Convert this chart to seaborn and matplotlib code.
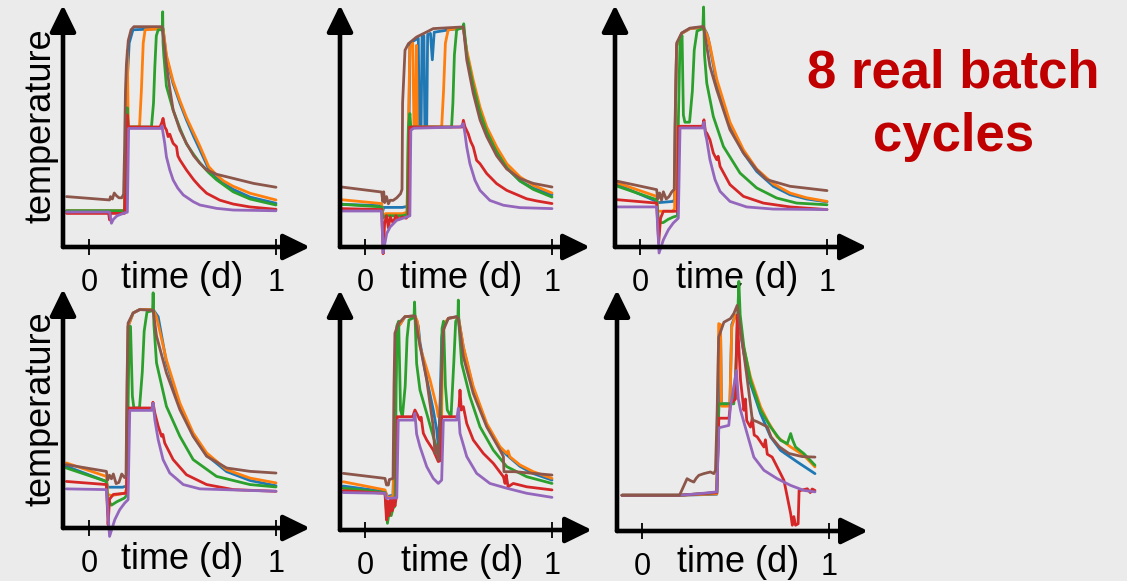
import matplotlib
matplotlib.use("Agg")
import matplotlib.pyplot as plt
import pandas as pd
import seaborn as sns

# ---------------------------------------------------------------------------
# Temperature traces of the batch cycles: (time in days, temperature units)
# ---------------------------------------------------------------------------
P1_BLUE = [(-0.12, 15.1), (0.18, 15.1), (0.195, 15.5), (0.20, 50), (0.205, 70), (0.215, 85), (0.235, 90.5),
           (0.39, 91.0), (0.396, 91), (0.414, 79), (0.45, 68), (0.486, 60), (0.521, 53), (0.56, 46),
           (0.593, 40.5), (0.64, 32.5), (0.682, 29), (0.72, 26.5), (0.771, 24), (0.861, 20.8), (1.0, 18.2)]
P1_ORANGE = [(-0.12, 15.1), (0.19, 15.1), (0.20, 50), (0.205, 82), (0.21, 50), (0.27, 50), (0.28, 65),
             (0.29, 85), (0.30, 90.5), (0.396, 91), (0.414, 80), (0.45, 69), (0.486, 61), (0.521, 54),
             (0.56, 47.5), (0.593, 42), (0.64, 33.5), (0.682, 30), (0.72, 27.5), (0.771, 25.3),
             (0.861, 22.4), (1.0, 19.6)]
P1_GREEN = [(-0.12, 15.1), (0.19, 15.1), (0.20, 50), (0.205, 58), (0.21, 50), (0.334, 50), (0.345, 60),
            (0.352, 75), (0.36, 88), (0.37, 90.5), (0.392, 90.5), (0.394, 98), (0.396, 85), (0.40, 80),
            (0.414, 67), (0.45, 57), (0.486, 49.5), (0.521, 43), (0.56, 38.5), (0.593, 35), (0.64, 31),
            (0.682, 28), (0.771, 23), (0.861, 20), (1.0, 17.5)]
P1_RED = [(-0.12, 14.0), (0.105, 14.0), (0.11, 11.3), (0.115, 14.0), (0.19, 14.0), (0.20, 50), (0.205, 55),
          (0.21, 50), (0.38, 50), (0.39, 52), (0.396, 53.6), (0.405, 50), (0.414, 48.8), (0.423, 46),
          (0.432, 47), (0.441, 45), (0.45, 43.2), (0.468, 41.8), (0.475, 38), (0.486, 36.3), (0.521, 32.1),
          (0.56, 28), (0.593, 25.1), (0.629, 22.4), (0.646, 21.7), (0.70, 19.5), (0.771, 17.9),
          (0.86, 16.7), (1.0, 15.7)]
P1_PURPLE = [(-0.12, 14.6), (0.11, 14.6), (0.12, 9.9), (0.13, 11.5), (0.15, 13), (0.19, 14.2), (0.205, 14.5),
             (0.212, 49.4), (0.385, 49.4), (0.39, 50.5), (0.397, 47), (0.405, 43.2), (0.414, 37.6),
             (0.432, 32.1), (0.45, 27.9), (0.475, 24.5), (0.504, 21.7), (0.557, 18.9), (0.593, 17.5),
             (0.682, 16.1), (0.771, 15.4), (1.0, 15.1)]
P1_BROWN = [(-0.12, 21.0), (0.11, 19.6), (0.115, 21), (0.125, 20), (0.135, 22.5), (0.145, 21.5), (0.16, 20.5),
            (0.175, 20.5), (0.185, 22), (0.19, 40), (0.195, 65), (0.20, 76), (0.21, 86), (0.225, 90.5),
            (0.24, 91.8), (0.39, 91.8), (0.40, 86), (0.414, 76), (0.43, 67), (0.45, 57.1), (0.486, 48.8),
            (0.521, 43.2), (0.56, 38), (0.593, 34.9), (0.629, 32.1), (0.682, 30.3), (0.771, 28.6),
            (0.88, 26.5), (1.0, 24.9)]

P2_BLUE = [(-0.125, 17.8), (0.089, 17.2), (0.095, 15), (0.10, 16.5), (0.20, 16.5), (0.23, 17), (0.235, 50),
           (0.24, 85), (0.285, 87), (0.29, 50), (0.30, 50), (0.305, 87.5), (0.315, 88), (0.32, 50), (0.33, 50),
           (0.335, 88.5), (0.35, 89), (0.36, 78), (0.37, 89.5), (0.45, 90.5), (0.526, 91.3), (0.544, 81),
           (0.579, 68), (0.615, 57), (0.651, 48.5), (0.704, 40), (0.758, 33), (0.829, 27.5), (0.9, 24.5),
           (1.0, 21.8)]
P2_ORANGE = [(-0.125, 19.7), (0.089, 18.1), (0.095, 13), (0.11, 13.9), (0.20, 13.9), (0.225, 14.5),
             (0.232, 50), (0.24, 83), (0.255, 85), (0.262, 50), (0.27, 50), (0.275, 84), (0.28, 50), (0.41, 50),
             (0.42, 65), (0.43, 85), (0.445, 90.5), (0.526, 91.3), (0.544, 82), (0.579, 69.4), (0.615, 58.3),
             (0.651, 50), (0.704, 41.7), (0.758, 34.7), (0.829, 29.2), (0.9, 25.7), (1.0, 22.5)]
P2_GREEN = [(-0.125, 17.8), (0.089, 16.7), (0.095, 12), (0.11, 13), (0.20, 13), (0.225, 13.5), (0.232, 50),
            (0.24, 55.6), (0.245, 50), (0.463, 50), (0.47, 60), (0.478, 80), (0.49, 90.5), (0.524, 91.5),
            (0.528, 93), (0.544, 80), (0.579, 67), (0.615, 56), (0.651, 48), (0.704, 39.5), (0.758, 33),
            (0.829, 27.5), (0.9, 24), (1.0, 20.8)]
P2_RED = [(-0.125, 16.0), (0.089, 15.6), (0.097, -2.8), (0.105, 10), (0.115, 13), (0.125, 8), (0.135, 12.5),
          (0.15, 10), (0.165, 13), (0.18, 11.5), (0.20, 12.5), (0.22, 12), (0.232, 13), (0.238, 50), (0.52, 50),
          (0.526, 52.8), (0.535, 50), (0.552, 47.2), (0.565, 44), (0.579, 41.7), (0.597, 36.1), (0.615, 34.7),
          (0.651, 30.6), (0.704, 26.4), (0.758, 23.6), (0.864, 20.1), (0.918, 19.2), (1.0, 18.1)]
P2_PURPLE = [(-0.125, 15.0), (0.089, 15.0), (0.097, -2.4), (0.116, 5.6), (0.134, 8.3), (0.169, 11.1),
             (0.223, 12.5), (0.24, 13), (0.245, 48.6), (0.26, 49.5), (0.51, 50), (0.526, 51.4), (0.535, 47),
             (0.544, 41.7), (0.561, 34.7), (0.588, 27.8), (0.615, 23.6), (0.668, 19.4), (0.74, 17.4),
             (0.829, 16.4), (1.0, 16.0)]
P2_BROWN = [(-0.125, 25.0), (0.089, 22.9), (0.095, 19), (0.10, 23), (0.105, 18.5), (0.115, 21), (0.125, 18),
            (0.135, 19.5), (0.15, 19.4), (0.17, 20.5), (0.19, 22.2), (0.198, 24), (0.201, 60), (0.214, 82),
            (0.232, 84.7), (0.276, 87.5), (0.33, 89.6), (0.365, 91), (0.526, 91.7), (0.544, 78), (0.579, 64),
            (0.615, 53), (0.651, 46), (0.704, 38), (0.758, 32.5), (0.829, 28.5), (0.9, 26.5), (1.0, 25.0)]

P3_BLUE = [(-0.121, 26), (0.089, 19), (0.10, 18.5), (0.178, 19), (0.185, 20), (0.19, 60), (0.196, 84),
           (0.223, 89), (0.267, 91), (0.34, 91.5), (0.357, 89), (0.365, 87), (0.41, 68.3), (0.481, 50.3),
           (0.553, 39.2), (0.624, 31.5), (0.713, 25.3), (0.802, 21.8), (0.891, 20), (1.0, 18.8)]
P3_ORANGE = [(-0.121, 26.7), (0.089, 21.1), (0.095, 15), (0.11, 14.9), (0.175, 14.9), (0.185, 16), (0.19, 60),
             (0.196, 84), (0.223, 89), (0.267, 91), (0.34, 91.5), (0.36, 88), (0.374, 84), (0.41, 70),
             (0.481, 52), (0.553, 40.5), (0.624, 32.5), (0.713, 26.3), (0.802, 22.5), (0.891, 20.5), (1.0, 19.0)]
P3_GREEN = [(-0.121, 25.3), (0.089, 19.7), (0.10, 10), (0.125, 10.2), (0.15, 11.5), (0.178, 12.5), (0.20, 13),
            (0.205, 52), (0.214, 86), (0.225, 88), (0.232, 55), (0.24, 52), (0.265, 52), (0.28, 65), (0.29, 82),
            (0.305, 90), (0.336, 91), (0.34, 100), (0.345, 80), (0.357, 68.3), (0.392, 54.4), (0.446, 41.9),
            (0.535, 30.8), (0.624, 24.6), (0.731, 20.4), (0.838, 18.3), (1.0, 17.6)]
P3_RED = [(-0.121, 19.7), (0.089, 18.3), (0.10, 1.7), (0.11, 12), (0.125, 14.9), (0.20, 14.9), (0.205, 50.3),
          (0.335, 50.3), (0.342, 53), (0.35, 48), (0.357, 47.5), (0.374, 44.7), (0.392, 39.2), (0.41, 36.4),
          (0.418, 37.8), (0.428, 33.6), (0.481, 26), (0.553, 21.1), (0.66, 18.3), (0.802, 16.7), (1.0, 15.6)]
P3_PURPLE = [(-0.121, 16.7), (0.089, 16.7), (0.102, -2.5), (0.125, 3), (0.152, 7.2), (0.178, 10), (0.205, 12),
             (0.214, 49.6), (0.335, 49.6), (0.342, 52), (0.35, 47), (0.357, 44.7), (0.374, 36.4), (0.401, 28.1),
             (0.428, 23.2), (0.481, 19), (0.57, 16.7), (0.713, 15.8), (1.0, 15.6)]
P3_BROWN = [(-0.121, 27.4), (0.089, 23.9), (0.095, 20), (0.105, 22.5), (0.115, 19.5), (0.125, 23), (0.14, 20),
            (0.155, 21), (0.17, 23), (0.183, 24), (0.187, 50), (0.196, 85), (0.223, 89.2), (0.267, 91.2),
            (0.339, 91.9), (0.352, 86), (0.374, 75.3), (0.41, 65.6), (0.481, 48.9), (0.553, 39.2),
            (0.624, 32.2), (0.677, 28.1), (0.802, 25.3), (1.0, 23.5)]

P4_BLUE = [(-0.121, 25.7), (0.093, 19.4), (0.10, 17), (0.18, 17), (0.20, 17.5), (0.205, 50), (0.209, 84),
           (0.236, 89.6), (0.271, 91), (0.343, 91), (0.37, 88), (0.414, 69), (0.486, 50.5), (0.557, 38.5),
           (0.629, 30.3), (0.736, 23.5), (0.861, 19.8), (1.0, 17.6)]
P4_ORANGE = [(-0.121, 27.1), (0.093, 21.5), (0.10, 14), (0.12, 13.5), (0.19, 14.5), (0.20, 16), (0.205, 60),
             (0.209, 84), (0.236, 89.6), (0.271, 91), (0.343, 91), (0.361, 88), (0.414, 70), (0.486, 52),
             (0.557, 39.6), (0.629, 31.3), (0.736, 24.3), (0.861, 20.8), (1.0, 18.8)]
P4_GREEN = [(-0.121, 25), (0.093, 19.4), (0.10, 12), (0.12, 9.5), (0.15, 11), (0.19, 12.5), (0.205, 14),
            (0.209, 50), (0.215, 84), (0.222, 84), (0.232, 55), (0.24, 50), (0.27, 50), (0.285, 65),
            (0.295, 82), (0.31, 90), (0.34, 90.5), (0.343, 98), (0.347, 85), (0.361, 68.8), (0.414, 50.7),
            (0.486, 38.2), (0.557, 28.5), (0.682, 21.5), (0.861, 18.1), (1.0, 17.1)]
P4_RED = [(-0.121, 19.4), (0.093, 18.1), (0.102, 1.4), (0.11, 12), (0.13, 14), (0.20, 14.5), (0.209, 50),
          (0.338, 50), (0.342, 52.4), (0.352, 47.9), (0.37, 42.4), (0.388, 38.2), (0.395, 39), (0.405, 35.4),
          (0.414, 34), (0.45, 28.5), (0.521, 22.2), (0.629, 18.1), (0.771, 16), (1.0, 15.3)]
P4_PURPLE = [(-0.121, 16.3), (0.093, 16), (0.11, -3.5), (0.138, 3.5), (0.164, 7.6), (0.191, 10.4),
             (0.209, 11.8), (0.218, 49), (0.335, 49), (0.343, 52), (0.352, 45.1), (0.37, 36.8), (0.396, 28.5),
             (0.432, 22.9), (0.504, 18.1), (0.593, 16.3), (1.0, 15.3)]
P4_BROWN = [(-0.121, 26.4), (0.093, 23.6), (0.10, 20), (0.11, 22), (0.12, 20.5), (0.13, 22.5), (0.145, 18.5),
            (0.16, 19), (0.175, 22.5), (0.19, 21), (0.198, 22), (0.203, 60), (0.209, 85.4), (0.236, 89.6),
            (0.271, 91), (0.343, 90.7), (0.361, 80), (0.414, 64.6), (0.486, 49.3), (0.557, 38.2),
            (0.629, 29.9), (0.736, 25), (0.861, 23.6), (1.0, 22.9)]

P5_BLUE = [(-0.116, 18.3), (0.107, 16), (0.12, 14), (0.15, 14.5), (0.16, 47), (0.17, 84), (0.19, 86),
           (0.214, 88.9), (0.267, 89.2), (0.285, 85), (0.294, 78), (0.33, 63), (0.365, 50), (0.383, 42),
           (0.392, 35), (0.40, 47.2), (0.41, 80), (0.419, 85), (0.446, 88.2), (0.499, 88.9), (0.526, 76),
           (0.579, 59), (0.651, 43.5), (0.722, 34), (0.758, 31.3), (0.829, 26.5), (0.9, 23.5), (1.0, 20.8)]
P5_ORANGE = [(-0.116, 20.1), (0.107, 16.7), (0.12, 13.5), (0.15, 14), (0.16, 47), (0.17, 84), (0.19, 86),
             (0.214, 88.9), (0.267, 89.2), (0.28, 87), (0.294, 76.4), (0.348, 62.5), (0.383, 51.4),
             (0.392, 47.2), (0.41, 47.2), (0.415, 80), (0.425, 86), (0.446, 88.2), (0.499, 88.9),
             (0.526, 76.4), (0.579, 59.7), (0.651, 44.4), (0.722, 34.7), (0.758, 31.9), (0.765, 33),
             (0.775, 30.5), (0.829, 27.1), (0.9, 24.3), (1.0, 21.5)]
P5_GREEN = [(-0.116, 17.4), (0.107, 15.6), (0.12, 2.8), (0.13, 8), (0.14, 6), (0.15, 9), (0.16, 10),
            (0.165, 47.2), (0.17, 85), (0.18, 87), (0.19, 50), (0.20, 47.2), (0.215, 60), (0.225, 80),
            (0.235, 87.5), (0.262, 88.5), (0.265, 95), (0.268, 88), (0.276, 69.4), (0.294, 58.3), (0.33, 48.6),
            (0.365, 38.9), (0.392, 31.9), (0.40, 30), (0.405, 47.2), (0.412, 84), (0.42, 87), (0.43, 60),
            (0.44, 50), (0.46, 47.2), (0.475, 70), (0.485, 87), (0.497, 88.5), (0.499, 95.8), (0.502, 86),
            (0.517, 69.4), (0.561, 55.6), (0.615, 43), (0.686, 33.3), (0.758, 26.4), (0.865, 22.2), (1.0, 19.4)]
P5_RED = [(-0.116, 16.4), (0.107, 15.3), (0.115, 4.2), (0.122, 12), (0.13, 6), (0.138, 13), (0.145, 8),
          (0.152, 13), (0.16, 10), (0.168, 14), (0.172, 47.2), (0.255, 47.2), (0.267, 50), (0.28, 48),
          (0.294, 45.8), (0.30, 47), (0.312, 40.3), (0.33, 37.5), (0.365, 33.3), (0.392, 28.5), (0.405, 29),
          (0.41, 47.2), (0.50, 47.2), (0.508, 58.3), (0.515, 50), (0.526, 51.4), (0.544, 44.4), (0.579, 37.5),
          (0.633, 31.9), (0.686, 27.8), (0.74, 22.2), (0.749, 19.4), (0.755, 23), (0.765, 18), (0.793, 19.4),
          (0.865, 18), (1.0, 16.7)]
P5_PURPLE = [(-0.116, 15.6), (0.107, 15.3), (0.115, 13.2), (0.17, 13.4), (0.178, 45.8), (0.26, 45.8),
             (0.267, 48.6), (0.276, 40), (0.294, 34.7), (0.33, 26.4), (0.365, 21.5), (0.392, 19.4),
             (0.41, 20.8), (0.419, 45.8), (0.49, 45.8), (0.499, 50.7), (0.508, 40.3), (0.544, 30.6),
             (0.597, 23.6), (0.668, 19.4), (0.758, 17.4), (0.865, 15.3), (1.0, 13.6)]
P5_BROWN = [(-0.116, 23.6), (0.107, 21.5), (0.115, 18.75), (0.125, 18.75), (0.13, 21), (0.15, 21.5),
            (0.155, 60), (0.16, 82), (0.178, 86), (0.214, 88.9), (0.267, 89.2), (0.285, 80.6), (0.33, 62.5),
            (0.365, 43), (0.374, 31.9), (0.383, 35), (0.392, 29.2), (0.401, 50), (0.419, 83.3), (0.446, 88.2),
            (0.49, 88.9), (0.499, 88), (0.526, 72.2), (0.579, 56.9), (0.651, 43), (0.722, 33.3), (0.74, 30.6),
            (0.743, 24.3), (0.80, 24.3), (1.0, 22.9)]

P6_BLUE = [(-0.107, 14.9), (0.20, 14.9), (0.40, 15.3), (0.411, 53), (0.415, 53), (0.42, 83), (0.425, 53),
           (0.47, 53), (0.48, 86), (0.50, 90), (0.515, 88), (0.545, 73.9), (0.58, 61.4), (0.634, 48.9),
           (0.688, 39.2), (0.741, 33.6), (0.83, 28.8), (0.925, 23.9)]
P6_ORANGE = [(-0.107, 14.9), (0.20, 14.9), (0.40, 15.5), (0.405, 51.7), (0.41, 86.4), (0.42, 86), (0.425, 52),
             (0.47, 52), (0.48, 85), (0.50, 90), (0.515, 88), (0.545, 76), (0.58, 64.2), (0.634, 51.7),
             (0.67, 46.1), (0.723, 39.2), (0.795, 35), (0.866, 31.5), (0.925, 26.7)]
P6_GREEN = [(-0.107, 14.9), (0.20, 14.9), (0.40, 16), (0.411, 53), (0.491, 53), (0.50, 65), (0.51, 85),
            (0.518, 104), (0.525, 90), (0.545, 76.7), (0.58, 62.8), (0.634, 50.3), (0.688, 43.3),
            (0.741, 37.8), (0.777, 36.4), (0.795, 40.6), (0.805, 38), (0.821, 35), (0.866, 32.2), (0.925, 27.4)]
P6_RED = [(-0.107, 14.9), (0.20, 14.9), (0.40, 16), (0.411, 47), (0.465, 47), (0.473, 53), (0.50, 55),
          (0.509, 90), (0.527, 62.8), (0.545, 50.3), (0.553, 55), (0.56, 46), (0.58, 43.3), (0.59, 47),
          (0.60, 40), (0.616, 39.2), (0.652, 35), (0.66, 38), (0.67, 32), (0.696, 30.8), (0.741, 23.9),
          (0.759, 21.1), (0.777, 14.2), (0.795, 7.2), (0.804, 2.4), (0.812, 6), (0.821, 2.4), (0.835, 3),
          (0.84, 16.9), (0.848, 16.9), (0.884, 17.6), (0.90, 16), (0.91, 17.5), (0.925, 16.9)]
P6_PURPLE = [(-0.107, 14.9), (0.20, 14.9), (0.30, 15.5), (0.40, 16.3), (0.411, 43), (0.464, 44),
             (0.473, 51.7), (0.505, 66.9), (0.515, 55), (0.527, 50.3), (0.562, 40.6), (0.598, 30.8),
             (0.652, 25.3), (0.723, 21.8), (0.795, 19), (0.866, 16.9), (0.925, 16.3)]
P6_BROWN = [(-0.107, 14.9), (0.20, 14.9), (0.209, 16.3), (0.241, 21.8), (0.259, 21), (0.277, 20.4), (0.29, 22),
            (0.304, 23.2), (0.33, 23.9), (0.366, 24.6), (0.384, 23.9), (0.393, 25.3), (0.402, 50), (0.41, 80.8),
            (0.438, 87), (0.473, 88.5), (0.491, 90.6), (0.509, 94), (0.542, 75.4), (0.561, 64.3),
            (0.579, 53.2), (0.59, 46.3), (0.617, 45.5), (0.67, 43.4), (0.69, 39.2), (0.734, 35.1),
            (0.786, 32.3), (0.857, 31), (0.925, 30.8)]

SENSORS = ["blue", "orange", "green", "red", "purple", "brown"]
X_TICKS = [0, 1]
X_TICK_LABELS = ["0", "1"]
X_LABEL = "time (d)"
Y_LABEL = "temperature"
TITLE_LINES = ["8 real batch", "cycles"]

PANEL_SERIES = [
    [P1_BLUE, P1_ORANGE, P1_GREEN, P1_RED, P1_PURPLE, P1_BROWN],
    [P2_BLUE, P2_ORANGE, P2_GREEN, P2_RED, P2_PURPLE, P2_BROWN],
    [P3_BLUE, P3_ORANGE, P3_GREEN, P3_RED, P3_PURPLE, P3_BROWN],
    [P4_BLUE, P4_ORANGE, P4_GREEN, P4_RED, P4_PURPLE, P4_BROWN],
    [P5_BLUE, P5_ORANGE, P5_GREEN, P5_RED, P5_PURPLE, P5_BROWN],
    [P6_BLUE, P6_ORANGE, P6_GREEN, P6_RED, P6_PURPLE, P6_BROWN],
]

# ---------------------------------------------------------------------------
# Layout (pixels): axes box (left, top, right, bottom) and pixel of t = 0
# ---------------------------------------------------------------------------
W, H = 1127, 581
PX_PER_DAY = 187.0
PX_PER_UNIT = 2.4
PANEL_BOXES = [
    ((63, 5, 310, 247), 89, True),
    ((340, 5, 590, 247), 365, False),
    ((615, 5, 867, 247), 640, False),
    ((63, 289, 310, 528), 89, True),
    ((340, 290, 592, 530), 365, False),
    ((617, 290, 868, 531), 642, False),
]

BG = "#ebebeb"
sns.set_theme(style="white")
plt.rcParams["font.family"] = ["Liberation Sans", "DejaVu Sans"]
plt.rcParams["axes.facecolor"] = "none"
plt.rcParams["text.color"] = "black"
plt.rcParams["xtick.color"] = "black"
plt.rcParams["xtick.labelcolor"] = "black"

palette = dict(zip(SENSORS, sns.color_palette("tab10", 6)))

rows = []
for p, series in enumerate(PANEL_SERIES):
    for name, pts in zip(SENSORS, series):
        for i, (t, v) in enumerate(pts):
            rows.append({"panel": p, "sensor": name, "step": i, "time": t, "temp": v})
df = pd.DataFrame(rows)

fig = plt.figure(figsize=(W / 100, H / 100), dpi=100, facecolor=BG)

arrow_kw = dict(arrowstyle="-|>,head_length=0.45,head_width=0.22", lw=3.3, color="black",
                mutation_scale=36, shrinkA=0, shrinkB=0)

for p, ((l, t, r, b), tick0, show_ylabel) in enumerate(PANEL_BOXES):
    ax = fig.add_axes([l / W, 1 - b / H, (r - l) / W, (b - t) / H])
    sub = df[df["panel"] == p]
    sns.lineplot(data=sub, x="time", y="temp", hue="sensor", hue_order=SENSORS, palette=palette,
                 estimator=None, sort=False, legend=False, lw=2.0, clip_on=False, ax=ax)
    ax.set_xlim((l - tick0) / PX_PER_DAY, (r - tick0) / PX_PER_DAY)
    ax.set_ylim(0, (b - t) / PX_PER_UNIT)
    for s in ax.spines.values():
        s.set_visible(False)
    ax.set_xticks(X_TICKS)
    ax.set_xticklabels(X_TICK_LABELS)
    ax.set_yticks([])
    ax.tick_params(axis="x", direction="inout", length=12, width=1.3, color="black",
                   labelcolor="black", labelsize=22, pad=9, bottom=True)
    ax.set_xlabel("")
    ax.set_ylabel("")

    # axis arrows
    ax.annotate("", xy=(1, 0), xytext=(0, 0), xycoords="axes fraction", textcoords="axes fraction",
                arrowprops=arrow_kw, annotation_clip=False)
    ax.annotate("", xy=(0, 1), xytext=(0, 0), xycoords="axes fraction", textcoords="axes fraction",
                arrowprops=arrow_kw, annotation_clip=False)

    ax.annotate(X_LABEL, xy=(0.5, 0), xycoords="axes fraction", xytext=(-4, -41),
                textcoords="offset pixels", ha="center", va="baseline", fontsize=26, color="black")
    if show_ylabel:
        ax.annotate(Y_LABEL, xy=(0, 0.5), xycoords="axes fraction", xytext=(-22, 0),
                    textcoords="offset pixels", ha="center", va="center", rotation=90,
                    fontsize=26, color="black")

fig.text(953 / W, 1 - 87 / H, TITLE_LINES[0], ha="center", va="baseline", fontsize=38,
         fontweight="bold", color="#c00000")
fig.text(954 / W, 1 - 151 / H, TITLE_LINES[1], ha="center", va="baseline", fontsize=38,
         fontweight="bold", color="#c00000")

fig.savefig("out.png", dpi=100, facecolor=BG)
